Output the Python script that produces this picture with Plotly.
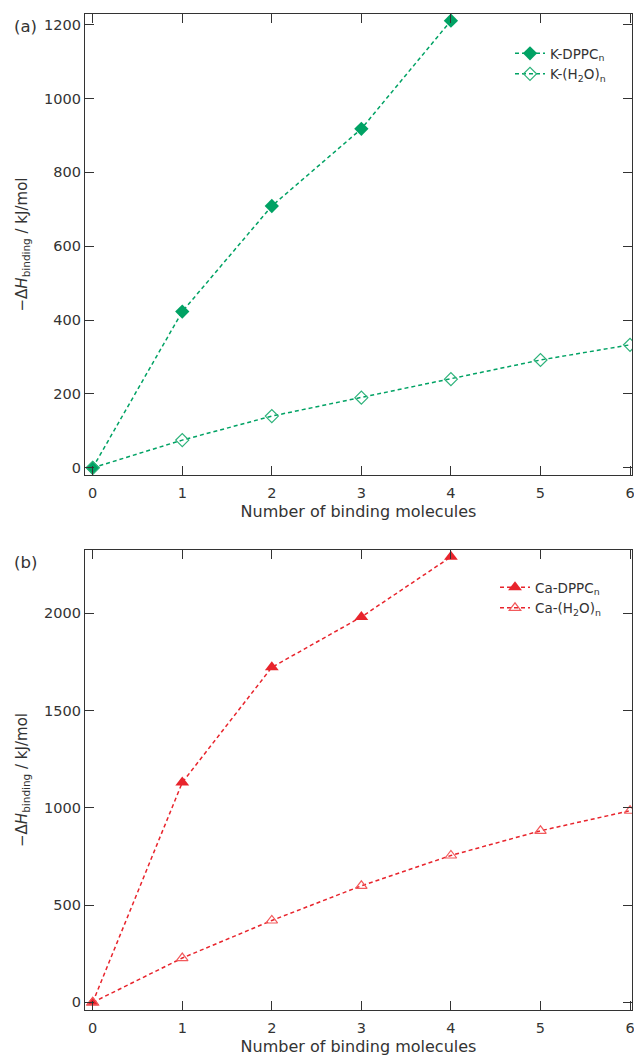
import plotly.graph_objects as go

# ---- data ----
n_dppc = [0, 1, 2, 3, 4]
n_h2o = [0, 1, 2, 3, 4, 5, 6]
k_dppc = [0, 423, 709, 918, 1211]
k_h2o = [0, 75, 140, 190, 240, 292, 333]
ca_dppc = [0, 1130, 1722, 1981, 2290]
ca_h2o = [0, 228, 421, 599, 755, 882, 985]
x_ticks = [0, 1, 2, 3, 4, 5, 6]
ya_ticks = [0, 200, 400, 600, 800, 1000, 1200]
yb_ticks = [0, 500, 1000, 1500, 2000]

GREEN = "#00A264"
GREEN_OPEN = "#2DB27A"
RED = "#E8242C"
RED_OPEN = "#F25A5C"
AX = "#333333"
FONT = "DejaVu Sans"

W, H = 634, 1056
L, R, T, B = 85, 2, 14, 46
PH = H - T - B

def py(pix):
    return (H - B - pix) / PH

def px(pix):
    return (pix - L) / (W - L - R)

fig = go.Figure()
dash = "4px,3px"
fig.add_trace(go.Scatter(x=n_dppc, y=k_dppc, mode="lines+markers", name="K-DPPC<sub>n</sub>",
                         line=dict(color=GREEN, width=1.5, dash=dash),
                         marker=dict(symbol="diamond", size=11, color=GREEN),
                         xaxis="x", yaxis="y", legend="legend"))
fig.add_trace(go.Scatter(x=n_h2o, y=k_h2o, mode="lines+markers", name="K-(H<sub>2</sub>O)<sub>n</sub>",
                         line=dict(color=GREEN, width=1.5, dash=dash),
                         marker=dict(symbol="diamond-open", size=10, color=GREEN_OPEN, line=dict(width=1.2)),
                         xaxis="x", yaxis="y", legend="legend"))
fig.add_trace(go.Scatter(x=n_dppc, y=ca_dppc, mode="lines+markers", name="Ca-DPPC<sub>n</sub>",
                         line=dict(color=RED, width=1.5, dash=dash),
                         marker=dict(symbol="triangle-up", size=12, color=RED),
                         xaxis="x2", yaxis="y2", legend="legend2"))
fig.add_trace(go.Scatter(x=n_h2o, y=ca_h2o, mode="lines+markers", name="Ca-(H<sub>2</sub>O)<sub>n</sub>",
                         line=dict(color=RED, width=1.5, dash=dash),
                         marker=dict(symbol="triangle-up-open", size=10, color=RED_OPEN, line=dict(width=1.2)),
                         xaxis="x2", yaxis="y2", legend="legend2"))

common = dict(showline=True, mirror="ticks", ticks="inside", ticklen=9, tickwidth=1.3,
              linecolor=AX, linewidth=1.3, tickcolor=AX, showgrid=False, zeroline=False,
              tickfont=dict(family=FONT, size=14.5, color=AX), automargin=False,
              ticklabeloverflow="allow")

xr = [-0.086, 6.022]
ytitle = "−Δ<i>H</i><sub>binding</sub> / kJ/mol"
fig.update_layout(
    width=W, height=H, margin=dict(l=L, r=R, t=T, b=B),
    paper_bgcolor="white", plot_bgcolor="white",
    font=dict(family=FONT, color=AX),
    xaxis=dict(common, domain=[0, 1], range=xr, tickvals=x_ticks, anchor="y",
               ticklabelstandoff=4,
               title=dict(text="Number of binding molecules", font=dict(size=16, color=AX), standoff=6)),
    yaxis=dict(common, domain=[py(475), 1], range=[-19.5, 1229], tickvals=ya_ticks, anchor="x",
               title=dict(text=ytitle, font=dict(size=15, color=AX), standoff=12)),
    xaxis2=dict(common, domain=[0, 1], range=xr, tickvals=x_ticks, anchor="y2",
                ticklabelstandoff=4,
                title=dict(text="Number of binding molecules", font=dict(size=16, color=AX), standoff=6)),
    yaxis2=dict(common, domain=[0, py(550)], range=[-39, 2325], tickvals=yb_ticks, anchor="x2",
                title=dict(text=ytitle, font=dict(size=15, color=AX), standoff=12)),
    legend=dict(x=px(510), y=py(38), xanchor="left", yanchor="top", bgcolor="rgba(0,0,0,0)",
                font=dict(family=FONT, size=13.5, color=AX), tracegroupgap=0),
    legend2=dict(x=px(495), y=py(572), xanchor="left", yanchor="top", bgcolor="rgba(0,0,0,0)",
                 font=dict(family=FONT, size=13.5, color=AX), tracegroupgap=0),
    annotations=[
        dict(text="(a)", x=px(12), y=py(26), xref="paper", yref="paper", xanchor="left", yanchor="middle",
             showarrow=False, font=dict(family=FONT, size=16.5, color=AX)),
        dict(text="(b)", x=px(12), y=py(562), xref="paper", yref="paper", xanchor="left", yanchor="middle",
             showarrow=False, font=dict(family=FONT, size=16.5, color=AX)),
    ],
)

fig.write_html("out.html", config={"displayModeBar": False},
               post_script="document.body.style.margin='0';document.body.style.overflow='hidden';")
